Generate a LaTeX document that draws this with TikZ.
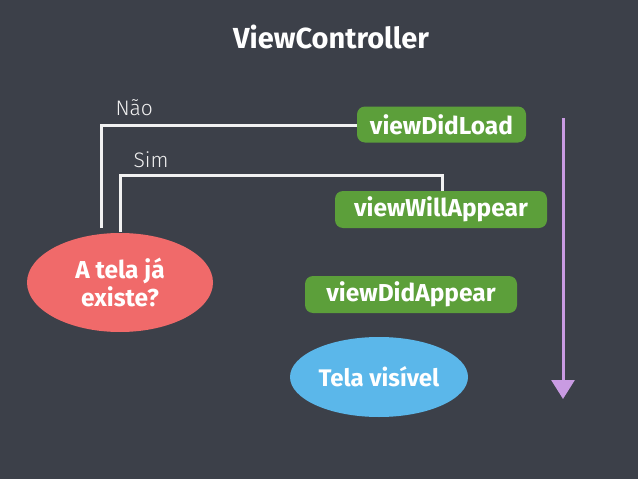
\documentclass[tikz,border=0pt]{standalone}
\usepackage{fontspec}
\setmainfont{Fira Sans}
\newfontfamily\labelfont{Fira Sans Light}
\usetikzlibrary{shapes.geometric,arrows.meta}
\definecolor{bg}{HTML}{3C4049}
\definecolor{boxgreen}{HTML}{5C9F3A}
\definecolor{askred}{HTML}{F06A6A}
\definecolor{skyblue}{HTML}{5BB7EA}
\definecolor{lilac}{HTML}{C99BE2}
\definecolor{chalk}{HTML}{F2F2F2}
\tikzset{
  x=1pt,y=-1pt,
  method/.style={fill=boxgreen,rounded corners=8pt,text=white,font=\bfseries\fontsize{24.5}{28}\selectfont,inner sep=0pt},
  oval/.style={ellipse,text=white,font=\bfseries\fontsize{24}{27}\selectfont,inner sep=0pt,align=center},
  chalkline/.style={draw=chalk,line width=3pt},
  branch/.style={text=chalk,font=\labelfont\fontsize{21}{24}\selectfont,anchor=base west},
}
\begin{document}
\begin{tikzpicture}
\fill[bg] (0,0) rectangle (638,479);
\useasboundingbox (0,0) rectangle (638,479);
\node[text=white,font=\bfseries\fontsize{29}{33}\selectfont] (title) at (331,37) {ViewController};
\node[method,minimum width=169pt,minimum height=36pt] (load) at (441.5,124.5) {viewDidLoad};
\node[method,minimum width=212pt,minimum height=37pt] (will) at (441,209.5) {viewWillAppear};
\node[method,minimum width=212pt,minimum height=37pt] (did) at (411,294.5) {viewDidAppear};
\node[oval,fill=skyblue,minimum width=178pt,minimum height=80pt] (vis) at (379,377) {Tela visível};
\node[oval,fill=askred,minimum width=186pt,minimum height=99pt,font=\bfseries\fontsize{24.5}{28}\selectfont] (ask) at (120,282.5) {A tela já\\existe?};
\coordinate (naoend) at (101,228);
\coordinate (naocorner) at (101,125);
\coordinate (simstart) at (120,232);
\coordinate (simcorner) at (120,175);
\coordinate (simturn) at (442,175);
\draw[chalkline] (naoend) -- (naocorner) -- (load.west |- naocorner);
\draw[chalkline] (simstart) -- (simcorner) -- (simturn) -- (simturn |- will.north);
\node[branch] (nao) at (112,115) {Não};
\node[branch] (sim) at (130,167) {Sim};
\coordinate (flowtop) at (563,118);
\coordinate (flowend) at (563,399);
\draw[draw=lilac,line width=3pt,-{Triangle[length=19pt,width=23pt]}] (flowtop) -- (flowend);
\end{tikzpicture}
\end{document}
